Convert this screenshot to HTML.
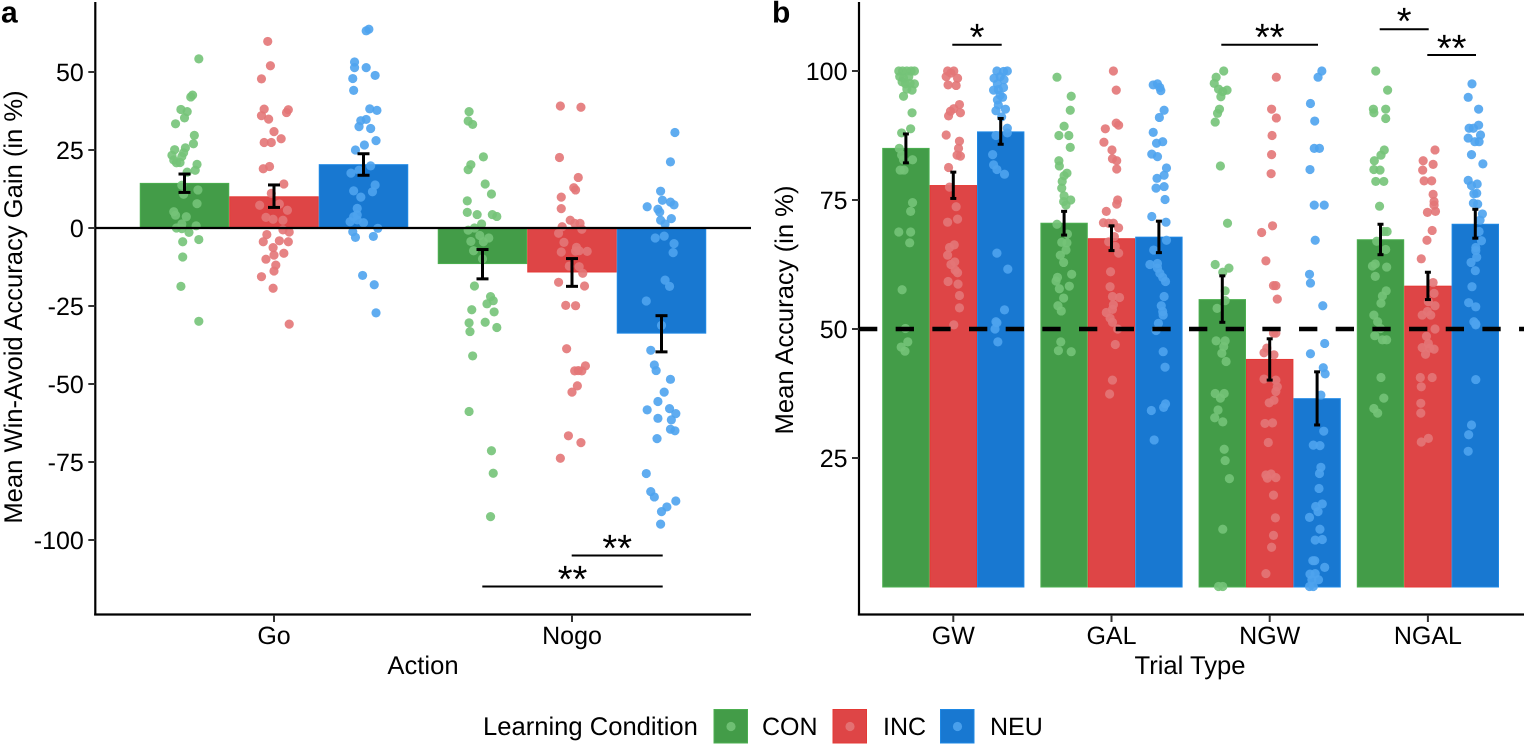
<!DOCTYPE html>
<html lang="en">
<head>
<meta charset="utf-8">
<title>Win-Avoid Accuracy Gain and Mean Accuracy by Learning Condition</title>
<style>
html,body{margin:0;padding:0;background:#fff;}
svg{display:block;font-family:"Liberation Sans",Arial,sans-serif;text-rendering:geometricPrecision;}
</style>
</head>
<body>
<svg id="figure" width="1524" height="746" viewBox="0 0 1524 746" xmlns="http://www.w3.org/2000/svg"></svg>
<script>
// ---------- categories and tick labels ----------
const conditions = ['CON', 'INC', 'NEU'];
const actionCategories = ['Go', 'Nogo'];
const trialCategories = ['GW', 'GAL', 'NGW', 'NGAL'];
const actionTicks = [50, 25, 0, -25, -50, -75, -100];
const trialTicks = [100, 75, 50, 25];

// ---------- panel a: bar means and error limits (per action) ----------
const aConMeans = [14.3, -11.4];
const aIncMeans = [10.0, -14.1];
const aNeuMeans = [20.3, -33.7];
const aConErrHigh = [17.3, -6.9];
const aConErrLow = [11.4, -16.3];
const aIncErrHigh = [13.8, -9.8];
const aIncErrLow = [6.6, -18.7];
const aNeuErrHigh = [23.8, -28.1];
const aNeuErrLow = [16.9, -39.7];

// ---------- panel b: bar means and error limits (per trial type) ----------
const bConMeans = [85.0, 70.5, 55.7, 67.3];
const bIncMeans = [77.8, 67.5, 44.1, 58.3];
const bNeuMeans = [88.2, 67.8, 36.5, 70.3];
const bConErrHigh = [87.8, 72.8, 60.3, 70.3];
const bConErrLow = [82.2, 68.2, 51.3, 64.4];
const bIncErrHigh = [80.4, 70.0, 48.1, 61.0];
const bIncErrLow = [75.3, 65.2, 40.1, 55.7];
const bNeuErrHigh = [90.8, 70.9, 41.7, 73.2];
const bNeuErrLow = [85.8, 64.8, 31.4, 67.6];

// ---------- participant points: [value, jitter as % of bar width] ----------
const aGoCon = [[54.2,16],[42.6,9],[42.0,7],[38.0,-4],[37.3,3],[35.3,0],[33.4,-10],[29.7,11],[27.0,10],[25.7,1],[25.1,-11],[24.1,-1],[23.3,-14],[22.9,-3],[21.8,-12],[20.9,-9],[21.0,-5],[20.4,14],[17.9,3],[18.5,12],[13.7,-3],[12.2,15],[10.8,-1],[7.8,14],[5.2,-12],[4.1,-10],[3.6,2],[1.3,-3],[0,-9],[-0.2,-3],[0.7,13],[-1.4,5],[-4.4,-2],[-3.7,16],[-9.3,-2],[-18.7,-4],[-29.9,16]];
const aGoInc = [[59.8,-7],[52.0,-4],[47.8,-14],[38.1,-11],[37.9,16],[37.0,14],[36.0,-14],[34.9,-6],[30.9,0],[28.6,8],[27.4,-11],[27.4,-3],[19.7,-5],[19.0,-12],[14.1,11],[11.1,-3],[7.3,-16],[7.7,6],[5.7,15],[3.4,-9],[2.8,-1],[2.5,10],[-0.6,10],[-1.3,17],[-2.1,-8],[-4.4,-12],[-4.1,6],[-4.4,16],[-6.3,-1],[-8.7,0],[-8.1,11],[-10.0,-9],[-11.9,2],[-13.8,0],[-15.6,-14],[-19.3,-1],[-30.8,17]];
const aGoNeu = [[63.7,6],[63.2,3],[53.2,-10],[51.4,-10],[51.4,3],[48.9,13],[47.9,-12],[44.1,-11],[38.2,7],[37.7,15],[34.8,3],[34.4,-3],[32.5,-5],[31.9,8],[28.0,14],[26.6,1],[25.0,-9],[19.9,8],[18.5,-5],[17.6,-14],[13.8,13],[11.9,-11],[11.6,10],[9.9,-3],[6.3,-7],[4.2,-7],[3.6,-11],[2.0,-15],[2.6,-7],[1.7,0],[-0.1,16],[-1.2,-12],[-3.0,-9],[-2.7,11],[-15.2,-1],[-18.2,12],[-27.2,14]];
const aNogoCon = [[37.3,-15],[34.3,-16],[33.2,-11],[22.8,1],[20.3,-13],[18.7,-16],[14.1,3],[10.9,10],[8.7,-17],[5.0,-17],[4.3,-6],[4.3,11],[3.7,16],[1.3,-1],[0,-9],[-0.7,-16],[-2.4,-3],[-3.2,7],[-4.4,1],[-4.3,-13],[-7.3,-10],[-9.9,0],[-18.6,-9],[-22.0,9],[-23.3,12],[-24.3,5],[-26.2,-12],[-26.9,13],[-30.2,3],[-30.4,-15],[-31.9,16],[-33.2,-14],[-41.0,-11],[-58.8,-15],[-71.4,10],[-78.6,12],[-92.5,9]];
const aNogoInc = [[39.1,-13],[38.7,10],[22.6,-14],[16.2,7],[12.9,2],[12.2,4],[9.9,-12],[6.2,-12],[2.5,-2],[1.5,3],[1.5,9],[0.4,-11],[-0.4,11],[-1.7,-15],[-4.6,-9],[-6.2,5],[-7.3,8],[-7.5,17],[-7.7,-12],[-7.4,4],[-12.2,-3],[-12.4,8],[-14.5,12],[-17.4,-15],[-18.6,14],[-24.8,-7],[-24.9,4],[-38.7,-6],[-44.2,15],[-45.8,3],[-45.7,7],[-45.8,11],[-50.6,6],[-52.6,0],[-66.6,-4],[-68.8,10],[-73.8,-13]];
const aNogoNeu = [[30.6,15],[21.2,10],[11.8,-1],[8.9,1],[8.3,10],[7.4,14],[6.8,-16],[6.0,-4],[5.1,-2],[3.0,11],[2.5,-1],[1.3,4],[-3.2,-7],[-2.6,3],[-5.0,14],[-7.9,13],[-16.7,4],[-18.7,9],[-23.4,-17],[-31.2,0],[-39.2,-12],[-43.9,-8],[-45.7,-6],[-48.5,10],[-52.6,3],[-55.6,-4],[-58.3,-16],[-57.9,9],[-59.5,16],[-61.0,-4],[-61.5,11],[-64.5,10],[-65.0,15],[-67.5,-5],[-78.7,-17],[-84.5,-12],[-86.2,-8],[-87.5,16],[-89.4,6],[-90.9,0],[-94.9,-1]];

const bGwCon = [[100,-15],[100,-7],[100,2],[100,11],[100,18],[98.9,-13],[98.6,-5],[98.9,6],[97.9,-8],[97.5,-1],[97.6,9],[97.5,18],[96.5,2],[96.3,13],[95.1,-5],[91.9,13],[88.8,10],[88.0,-9],[85.0,-14],[83.7,-9],[82.8,-5],[82.8,14],[80.8,-12],[80.8,-4],[74.5,14],[72.8,10],[68.8,-15],[68.8,10],[66.7,8],[57.6,-8],[50.1,-1],[47.5,4],[46.5,-10],[45.7,-2]];
const bGwInc = [[100,-12],[100,1],[98.9,-15],[98.6,9],[97.3,-11],[97.2,6],[99.6,-5],[93.5,13],[92.7,1],[92.2,-6],[91.9,15],[91.3,-10],[87.6,-15],[86.4,13],[85.0,11],[83.5,15],[83.7,8],[81.3,-10],[77.5,-8],[73.7,6],[70.7,-12],[71.3,9],[66.3,2],[65.8,-8],[64.3,-12],[63.0,3],[62.5,-5],[61.4,4],[60.9,9],[59.2,-11],[58.7,10],[56.5,13],[54.1,13],[50.8,1]];
const bGwNeu = [[100,14],[100,-8],[99.9,6],[98.6,-14],[98.9,-1],[98.3,7],[97.5,-7],[96.3,-15],[96.4,-5],[96.8,6],[95.3,-1],[94.4,-7],[94.9,4],[93.4,-5],[92.3,-10],[92.6,10],[91.1,2],[88.9,14],[88.0,14],[87.5,-10],[83.8,-17],[81.8,-15],[80.9,-8],[80.0,8],[64.7,-8],[61.6,15],[53.7,8],[51.4,-10],[51.2,-8],[50.0,-12],[47.5,-6]];
const bGalCon = [[98.8,-15],[95.1,15],[92.4,13],[89.3,0],[87.5,-11],[87.5,10],[85.2,13],[82.6,-11],[81.6,-10],[80.2,6],[79.7,0],[78.6,-4],[77.3,-5],[75.8,0],[75.0,14],[74.7,-1],[74.0,4],[70.3,-15],[68.4,7],[66.8,-5],[66.7,6],[65.3,4],[64.3,-8],[62.9,-1],[60.6,16],[60.0,-14],[59.3,-17],[58.3,11],[57.8,-10],[56.0,-1],[54.5,-13],[53.5,-6],[47.5,-7],[45.8,-12],[45.6,15]];
const bGalInc = [[100,4],[96.3,10],[89.9,10],[89.5,15],[88.8,-13],[86.2,-16],[84.7,1],[83.0,2],[82.6,11],[81.0,11],[75.0,13],[74.2,11],[72.8,-11],[70.6,-17],[70.5,-6],[70.5,4],[69.6,15],[67.9,6],[66.9,-6],[66.0,8],[64.7,15],[61.1,-2],[58.2,-3],[56.3,2],[56.1,17],[54.7,4],[53.8,2],[53.2,-11],[52.1,-3],[51.3,2],[50.0,13],[47.0,8],[40.1,2],[37.4,-4]];
const bGalNeu = [[97.3,-12],[97.5,-3],[96.8,2],[96.2,4],[92.4,11],[91.0,1],[88.1,-12],[86.3,8],[86.0,-5],[83.9,-15],[83.4,-3],[81.2,16],[79.8,11],[79.2,-4],[77.6,11],[77.3,-6],[75.1,13],[71.8,-15],[70.7,15],[67.2,16],[65.3,-11],[62.5,-19],[62.7,-3],[61.8,-3],[60.8,2],[60.0,8],[59.2,14],[56.3,11],[54.5,5],[53.4,8],[52.7,9],[51.1,-1],[49.7,-6],[45.6,9],[42.6,13],[35.5,14],[34.8,10],[34.2,-16],[28.5,-10]];
const bNgwCon = [[100,3],[98.8,-13],[97.6,-17],[96.5,-8],[96.3,10],[96.0,1],[95.0,-3],[92.6,-6],[91.8,-10],[90.1,-15],[81.6,-4],[70.5,11],[62.5,-15],[61.8,14],[61.0,1],[57.4,6],[55.5,6],[54.0,-11],[47.7,-13],[47.7,6],[46.6,3],[45.3,-1],[43.7,8],[37.5,-15],[37.5,4],[36.6,-4],[34.3,-9],[32.8,-16],[32.0,1],[26.7,4],[24.5,6],[21.0,15],[11.2,1],[0.1,-8],[0.1,1]];
const bNgwInc = [[98.8,14],[92.6,4],[90.9,14],[87.5,5],[83.8,4],[80.1,3],[70.0,6],[68.7,-17],[63.2,-8],[58.4,8],[58.4,13],[55.8,16],[49.2,8],[49.2,13],[46.3,-6],[45.4,-12],[45.0,9],[40.3,-12],[40.1,13],[38.8,16],[37.9,13],[36.2,9],[35.7,-1],[31.7,-10],[31.8,6],[28.0,-3],[21.7,-8],[21.9,3],[21.1,-5],[21.2,13],[17.8,8],[13.4,12],[10.0,8],[7.7,4],[2.6,-8]];
const bNgwNeu = [[100,10],[98.8,2],[93.7,-14],[90.3,-5],[85.0,-6],[85.0,5],[80.9,-15],[74.0,-6],[74.0,15],[67.2,-4],[60.6,-16],[58.9,-14],[54.5,12],[47.2,16],[45.2,-14],[42.5,13],[41.3,17],[37.2,8],[30.2,14],[27.5,-8],[27.4,6],[23.2,8],[22.0,5],[19.1,4],[16.1,11],[15.6,-3],[14.6,2],[13.5,-16],[11.2,6],[9.1,-4],[9.2,11],[5.1,-9],[5.1,-5],[3.8,16],[2.5,-15],[2.6,-4],[1.4,3],[1.4,-11],[0.1,-16],[0.1,-8]];
const bNgalCon = [[100,-10],[96.3,15],[92.6,-15],[92.6,11],[91.9,-14],[90.8,11],[84.7,8],[83.7,1],[82.6,-13],[80.9,-14],[80.8,-1],[78.6,-10],[78.6,7],[73.8,-2],[68.9,14],[68.9,7],[67.0,-8],[65.4,11],[62.6,-11],[62.2,-17],[62.0,13],[60.2,-11],[57.4,12],[56.4,4],[55.0,1],[52.7,-14],[51.4,-6],[50.1,0],[48.7,-12],[47.9,4],[47.9,13],[40.6,1],[36.6,7],[34.6,-14],[33.7,-6]];
const bNgalInc = [[84.7,15],[82.6,-10],[81.9,11],[80.8,-11],[78.7,-8],[78.7,8],[76.1,11],[74.7,13],[74.0,13],[72.8,16],[72.6,-1],[69.1,9],[67.2,-2],[63.6,-14],[59.0,11],[56.9,13],[55.3,1],[54.5,15],[53.4,-1],[52.7,-12],[52.7,6],[50.0,15],[48.6,-3],[47.2,1],[46.4,-12],[46.1,13],[46.3,4],[45.1,-5],[40.6,-16],[40.6,9],[38.8,-14],[35.6,-15],[33.7,-15],[28.8,1],[28.1,-14]];
const bNgalNeu = [[97.5,-7],[94.9,-15],[92.6,7],[89.5,7],[88.9,-13],[88.9,-4],[87.6,11],[87.0,-15],[86.3,-1],[86.3,8],[83.8,-8],[82.0,16],[78.8,-15],[78.1,4],[77.8,-8],[76.3,3],[76.2,-3],[74.4,-4],[74.2,5],[72.3,15],[71.1,10],[68.9,8],[67.1,13],[65.8,1],[65.2,1],[63.9,3],[62.9,-9],[61.3,0],[58.2,-7],[55.1,-14],[54.3,1],[51.4,-3],[50.8,1],[51.0,1],[40.2,1],[31.4,-8],[29.5,-14],[26.3,-15]];

// ---------- styling ----------
const barFill = {CON:'#439C48', INC:'#DE4546', NEU:'#1878D1'};
const barEdge = {CON:'#4CAF50', INC:'#E53935', NEU:'#1E88E5'};
const dotFill = {CON:'#74C378', INC:'#E37677', NEU:'#4EA3EE'};
const svg = document.getElementById('figure');
const NS = 'http://www.w3.org/2000/svg';

function add(parent, tag, attrs, txt) {
  const el = document.createElementNS(NS, tag);
  for (const k in attrs) el.setAttribute(k, attrs[k]);
  if (txt !== undefined) el.textContent = txt;
  parent.appendChild(el);
  return el;
}
function group(parent, name) {
  const g = add(parent, 'g', {});
  
  
  return g;
}

// ---------- axis functions ----------
const yA = v => 228 - 3.12 * v;
const yB = v => 587 - 5.16 * v;
const bandA = i => 274 + 298 * i;
const bandB = i => 953.3 + 158.2 * i;
const widthA = 89.5;
const widthB = 47.4;
const barX = (centre, width, c) => centre + (c - 1) * width;

function drawBars(layer, panel, cats, band, width, y, baseline, means) {
  cats.forEach((cat, i) => conditions.forEach((cond, c) => {
    const v = means[c][i];
    const top = Math.min(y(v), y(baseline));
    const h = Math.abs(y(v) - y(baseline));
    const r = add(layer, 'rect', {x: barX(band(i), width, c) - width / 2 + 0.5, y: top, width: width - 1, height: h, fill: barFill[cond], stroke: barEdge[cond], 'stroke-width': 1});
    
    
  }));
}
function drawPoints(layer, panel, cat, cond, centre, width, y, pts) {
  const g = group(layer, panel + '-points-' + cat.toLowerCase() + '-' + cond.toLowerCase());
  pts.forEach(p => {
    const ci = add(g, 'circle', {cx: centre + p[1] / 100 * width, cy: y(p[0]), r: 4.6, fill: dotFill[cond], 'fill-opacity': 0.9});
    
    
  });
}
function drawErrors(layer, panel, cats, band, width, y, hi, lo, cap) {
  cats.forEach((cat, i) => conditions.forEach((cond, c) => {
    const x = barX(band(i), width, c);
    const g = group(layer, panel + '-error-bar-' + cat.toLowerCase() + '-' + cond.toLowerCase());
    const t = y(hi[c][i]), b = y(lo[c][i]);
    const st = {stroke: '#000', 'stroke-width': 3};
    add(g, 'line', Object.assign({x1: x, x2: x, y1: t, y2: b}, st));
    add(g, 'line', Object.assign({x1: x - cap, x2: x + cap, y1: t, y2: t}, st));
    add(g, 'line', Object.assign({x1: x - cap, x2: x + cap, y1: b, y2: b}, st));
  }));
}
function drawYAxis(layer, name, axisX, ticks, y) {
  const g = group(layer, name);
  add(g, 'line', {x1: axisX, x2: axisX, y1: 2, y2: 615.5, stroke: '#000', 'stroke-width': 2.2});
  ticks.forEach(t => {
    add(g, 'line', {x1: axisX - 7, x2: axisX, y1: y(t), y2: y(t), stroke: '#333', 'stroke-width': 2});
    const lab = add(g, 'text', {x: axisX - 11.5, y: y(t) + 9, 'text-anchor': 'end', 'font-size': 25, fill: '#000'}, String(t));
    
    
  });
}
function drawXAxis(layer, name, x1, x2, cats, band) {
  const g = group(layer, name);
  add(g, 'line', {x1: x1, x2: x2, y1: 614.5, y2: 614.5, stroke: '#000', 'stroke-width': 2.2});
  cats.forEach((cat, i) => {
    add(g, 'line', {x1: band(i), x2: band(i), y1: 615, y2: 622, stroke: '#333', 'stroke-width': 2});
    const lab = add(g, 'text', {x: band(i), y: 644, 'text-anchor': 'middle', 'font-size': 25, fill: '#000'}, cat);
    
    
  });
}
function drawSig(layer, name, x1, x2, lineY, stars, baselineY) {
  const g = group(layer, name);
  add(g, 'line', {x1: x1, x2: x2, y1: lineY, y2: lineY, stroke: '#000', 'stroke-width': 2});
  add(g, 'text', {x: (x1 + x2) / 2, y: baselineY, 'text-anchor': 'middle', 'font-size': 38, fill: '#000'}, stars);
}
function label(txt, name, attrs) {
  const t = add(svg, 'text', Object.assign({fill: '#000'}, attrs), txt);
  
  
  return t;
}

// ---------- panel a ----------
const panelA = group(svg, 'panel-a');
drawBars(group(panelA, 'panel-a-bars'), 'a', actionCategories, bandA, widthA, yA, 0, [aConMeans, aIncMeans, aNeuMeans]);
const aPointLayer = group(panelA, 'panel-a-points');
[[aGoCon, aGoInc, aGoNeu], [aNogoCon, aNogoInc, aNogoNeu]].forEach((set, i) => set.forEach((pts, c) => {
  drawPoints(aPointLayer, 'a', actionCategories[i], conditions[c], barX(bandA(i), widthA, c), widthA, yA, pts);
}));
const zeroLine = add(panelA, 'line', {x1: 95, x2: 751, y1: yA(0), y2: yA(0), stroke: '#000', 'stroke-width': 2.2});


drawErrors(group(panelA, 'panel-a-error-bars'), 'a', actionCategories, bandA, widthA, yA, [aConErrHigh, aIncErrHigh, aNeuErrHigh], [aConErrLow, aIncErrLow, aNeuErrLow], 6);
drawSig(panelA, 'significance-inc-neu-nogo', 571.7, 662.7, 555.5, '**', 561);
drawSig(panelA, 'significance-con-neu-nogo', 482.3, 662.7, 586.5, '**', 592);
drawYAxis(panelA, 'panel-a-y-axis', 95.3, actionTicks, yA);
drawXAxis(panelA, 'panel-a-x-axis', 94.2, 751, actionCategories, bandA);

// ---------- panel b ----------
const panelB = group(svg, 'panel-b');
drawBars(group(panelB, 'panel-b-bars'), 'b', trialCategories, bandB, widthB, yB, 0, [bConMeans, bIncMeans, bNeuMeans]);
const bPointLayer = group(panelB, 'panel-b-points');
[[bGwCon, bGwInc, bGwNeu], [bGalCon, bGalInc, bGalNeu], [bNgwCon, bNgwInc, bNgwNeu], [bNgalCon, bNgalInc, bNgalNeu]].forEach((set, i) => set.forEach((pts, c) => {
  drawPoints(bPointLayer, 'b', trialCategories[i], conditions[c], barX(bandB(i), widthB, c), widthB, yB, pts);
}));
const chanceLine = add(panelB, 'line', {x1: 859, x2: 1524, y1: yB(50), y2: yB(50), stroke: '#000', 'stroke-width': 4.4, 'stroke-dasharray': '18.3 18.37'});


drawErrors(group(panelB, 'panel-b-error-bars'), 'b', trialCategories, bandB, widthB, yB, [bConErrHigh, bIncErrHigh, bNeuErrHigh], [bConErrLow, bIncErrLow, bNeuErrLow], 3);
drawSig(panelB, 'significance-gw', 952.3, 1001.7, 44.7, '*', 50);
drawSig(panelB, 'significance-ngw', 1221.3, 1318, 44.7, '**', 50);
drawSig(panelB, 'significance-ngal-con-inc', 1379.7, 1428.7, 29.3, '*', 34);
drawSig(panelB, 'significance-ngal-inc-neu', 1427.3, 1476, 55, '**', 61);
drawYAxis(panelB, 'panel-b-y-axis', 859, trialTicks, yB);
drawXAxis(panelB, 'panel-b-x-axis', 857.9, 1524, trialCategories, bandB);

// ---------- titles ----------
label('a', 'panel-a-label', {x: 1, y: 22.5, 'font-size': 30, 'font-weight': 'bold'});
label('b', 'panel-b-label', {x: 772, y: 22.5, 'font-size': 30, 'font-weight': 'bold'});
label('Action', 'panel-a-x-axis-title', {x: 423, y: 674, 'text-anchor': 'middle', 'font-size': 25.6});
label('Trial Type', 'panel-b-x-axis-title', {x: 1190, y: 674, 'text-anchor': 'middle', 'font-size': 25.6});
label('Mean Win-Avoid Accuracy Gain (in %)', 'panel-a-y-axis-title', {transform: 'translate(22,307) rotate(-90)', 'text-anchor': 'middle', 'font-size': 25.6});
label('Mean Accuracy (in %)', 'panel-b-y-axis-title', {transform: 'translate(793,310) rotate(-90)', 'text-anchor': 'middle', 'font-size': 25.6});

// ---------- legend ----------
const legend = group(svg, 'legend');
const legendTitle = add(legend, 'text', {x: 483, y: 735, 'font-size': 25.6, fill: '#000'}, 'Learning Condition');


const legendSwatchX = {CON: 714, INC: 833, NEU: 940.5};
const legendTextX = {CON: 762, INC: 883, NEU: 990};
conditions.forEach(cond => {
  const g = group(legend, 'legend-entry-' + cond.toLowerCase());
  add(g, 'rect', {x: legendSwatchX[cond], y: 709.5, width: 33.5, height: 33.5, fill: barFill[cond], stroke: barEdge[cond], 'stroke-width': 1});
  add(g, 'circle', {cx: legendSwatchX[cond] + 17, cy: 726.5, r: 4.6, fill: dotFill[cond], 'fill-opacity': 0.9});
  add(g, 'text', {x: legendTextX[cond], y: 735, 'font-size': 25, fill: '#000'}, cond);
});
</script>
</body>
</html>
